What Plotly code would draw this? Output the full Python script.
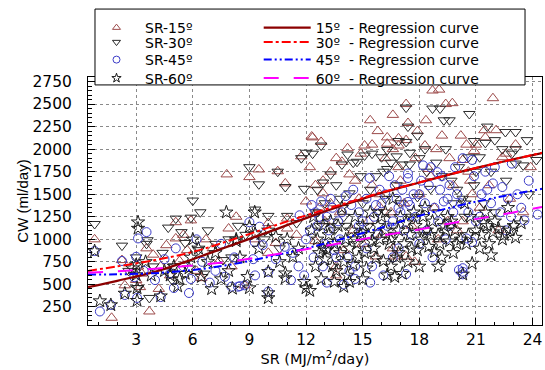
import plotly.graph_objects as go

# ---------------- data ----------------
sr15_x = [0.8,1.7,2.25,2.4,3.0,3.1,3.55,3.7,3.3,3.9,3.2,
          4.6,5.1,5.1,5.9,5.5,4.3,4.8,5.3,5.7,4.2,
          6.45,7.06,7.8,8.05,6.7,7.4,6.2,7.9,8.3,
          9.0,9.5,10.5,10.9,11.75,10.0,11.0,11.0,10.0,8.75,9.3,10.4,11.5,12.0,
          12.3,12.35,12.8,14.2,13.9,14.3,15.1,15.5,15.4,16.3,13.3,12.9,12.9,13.6,13.6,15.7,15.9,13.0,14.5,15.0,12.5,13.8,14.8,15.3,16.0,12.7,14.0,15.5,16.2,12.2,
          18.7,19.05,17.3,19.4,19.75,16.6,18.35,17.4,19.2,16.9,17.3,16.3,16.9,18.3,20.3,16.6,16.7,17.3,17.75,17.0,18.0,18.8,19.5,16.5,17.6,19.0,20.0,18.5,19.8,17.8,
          21.9,21.45,22.07,21.5,23.1,20.5,20.9,22.4,20.6,21.7,22.8,23.5,21.2,20.3,22.2,23.9,20.8,
          13.6,14.9,15.8,16.6,17.9,18.9,20.2,21.0,22.6,12.5,14.6,16.9,18.6,19.6,13.3,15.9,17.2,20.7]
sr15_y = [1000,130,770,490,550,700,900,200,620,830,470,
          935,1190,1010,1210,1050,700,600,760,880,450,
          570,900,1720,700,1000,760,650,1120,1250,
          1690,1775,1755,1620,1920,1180,1230,1120,850,490,1000,960,1050,1420,
          2140,2130,2080,2010,1860,1720,2040,2050,2320,2130,1750,1650,1510,700,600,810,1360,1200,1100,950,980,1300,1450,1200,1050,1350,880,1600,1900,1800,
          2650,2660,2500,2500,2510,2380,2320,2290,2150,2120,2100,2060,2040,2040,1880,900,810,810,750,1650,1500,1350,1200,1300,1150,1000,1100,1780,1600,1900,
          2565,2210,2210,2130,2050,2050,1980,1910,1750,1600,1450,1300,1350,1200,1100,1800,1500,
          1900,1950,2200,2000,2200,2000,2150,2050,1950,1600,1650,1800,1700,1900,1400,1500,1400,1650]

sr30_x = [0.8,2.25,3.6,3.55,3.7,3.1,3.0,2.6,3.9,
          4.7,5.1,5.9,6.0,6.4,5.4,4.4,5.0,5.6,4.9,
          7.6,8.05,6.8,7.2,6.3,7.9,8.4,6.6,
          9.0,9.5,10.5,10.9,11.75,9.3,10.0,11.0,11.5,9.8,10.6,11.9,8.8,12.0,
          12.35,12.8,14.2,13.9,15.1,15.5,14.7,16.0,13.3,12.9,14.3,16.2,13.0,12.5,14.0,15.0,15.8,13.5,14.6,15.3,12.7,13.2,16.1,14.9,
          17.3,18.7,19.1,19.3,19.6,17.4,16.9,17.3,18.3,16.3,16.8,17.5,18.0,17.1,17.5,16.3,19.2,19.7,20.0,20.3,17.9,16.8,18.6,19.0,17.6,16.6,18.2,
          20.65,22.56,23.1,20.9,21.5,22.0,22.4,23.1,20.6,21.2,23.1,23.5,21.8,22.6,20.9,21.4,23.8,22.0,20.4,24.2,
          13.6,14.5,15.7,16.5,17.9,18.9,19.4,20.1,21.0,22.9,13.8,15.4,17.0,18.4,19.8,12.6,14.1,16.7,21.6,23.7]
sr30_y = [1170,930,990,950,350,460,800,650,700,
          1130,1230,1240,1430,1300,1080,850,700,960,550,
          770,800,1100,950,880,1000,1150,620,
          1800,1610,1750,1580,1900,1330,1260,1260,1180,1000,900,1560,1050,1960,
          1950,2040,1940,1830,1930,1950,1860,1910,1720,1630,1510,1450,1400,1300,1250,1400,1300,1100,1000,1150,1150,900,1750,1700,
          2460,2450,2450,2320,2320,2250,2090,2080,2000,1990,1920,1960,1900,1830,1830,1780,1700,1650,1550,1450,1470,1600,1560,1300,1250,1150,1050,
          2390,2190,2190,2090,2070,2100,2000,2000,1910,1910,1840,1820,1750,1650,1600,1400,1500,1300,1250,1880,
          1600,1850,1700,1850,2150,1850,2000,1800,1750,1950,1450,1550,1400,1750,1400,1550,1150,1050,2250,2100]

sr45_x = [0.8,1.08,1.66,2.25,2.4,3.1,3.55,3.0,3.05,4.0,3.4,2.9,
          5.1,4.3,5.0,5.8,4.8,5.5,4.5,5.9,
          7.7,8.05,8.5,6.5,7.2,6.9,8.2,7.5,6.2,
          9.0,9.54,11.66,9.28,9.7,10.87,8.4,8.75,9.3,10.0,10.0,11.2,11.9,11.6,10.4,11.3,12.0,9.2,
          12.3,12.5,12.8,13.1,13.4,12.6,13.2,13.7,14.1,14.4,14.8,15.37,15.0,15.6,16.0,13.0,13.5,14.2,14.6,15.2,15.8,12.4,13.1,14.0,14.6,15.4,16.1,13.8,14.9,12.9,15.9,16.3,
          17.4,17.4,18.2,18.6,18.96,17.4,17.5,18.5,19.1,19.6,18.0,16.8,17.0,17.8,18.8,19.3,20.0,16.6,17.2,18.4,19.0,19.8,17.3,20.1,20.3,16.9,18.0,19.4,18.7,16.4,19.9,
          20.3,20.8,21.9,22.4,22.9,22.86,23.57,24.27,20.5,20.8,20.3,20.3,21.3,21.8,22.3,21.0,23.2,22.6,21.5,23.8,20.6,
          12.7,13.3,13.9,14.5,15.2,15.7,16.2,16.7,17.1,17.7,18.3,19.2,19.5,20.2,20.9,21.6,22.0,22.7,23.4,13.6,14.3,15.5,16.6,17.6,19.6,21.2,18.1,12.2,14.8,16.9]
sr45_y = [870,200,272,760,383,1010,1080,806,350,548,650,580,
          900,360,460,405,620,700,780,560,
          585,475,480,750,650,520,800,950,1000,
          1190,1140,1267,970,935,917,475,490,600,640,420,548,600,700,780,850,1000,780,
          1380,1300,1420,1250,1350,1150,1100,1200,1480,1380,1300,1680,1200,1250,1400,950,880,800,700,900,1050,800,520,500,560,520,600,1000,1080,700,1550,1150,
          1730,1680,1820,1800,1745,1415,1380,1600,1550,1600,1500,1450,1300,1250,1350,1420,1500,1200,1100,1100,1200,1300,615,660,640,900,950,1000,800,1700,1800,
          1900,1880,1620,1580,1840,1250,1210,1275,1010,970,680,612,1500,1400,1300,1200,1500,1100,1750,1650,1300,
          1250,1450,1300,1550,1450,1380,1500,1600,1550,1500,1400,1700,1450,1400,1700,1550,1800,1450,1350,800,650,700,800,1050,1150,1250,1650,1100,1150,1350]

sr60_x = [0.8,1.08,1.66,2.4,3.1,3.1,3.0,3.0,3.05,3.05,3.5,3.8,2.8,
          4.5,4.8,5.0,5.3,5.6,5.8,4.3,5.2,5.9,6.0,
          7.78,6.46,8.1,6.8,7.2,7.5,6.3,8.3,7.0,7.9,
          9.28,9.0,9.3,10.4,11.0,8.3,9.5,10.0,8.9,9.0,10.0,10.0,10.0,10.9,10.9,11.9,12.0,11.3,8.5,11.6,10.6,
          12.3,12.6,12.9,13.2,13.5,13.8,14.1,14.4,14.7,15.0,15.3,15.6,15.9,16.2,12.5,13.0,13.6,14.2,14.5,14.8,15.2,15.7,16.1,12.8,13.5,14.0,14.3,15.0,12.2,13.3,14.6,15.4,13.9,16.0,
          16.3,16.7,18.8,16.5,16.9,17.2,17.5,17.8,18.1,18.4,18.7,19.0,19.3,19.6,19.9,20.2,16.8,17.4,17.9,18.5,19.2,19.8,17.0,17.7,18.3,19.5,16.6,18.0,16.2,
          21.0,21.3,21.6,21.9,22.2,22.5,22.8,23.1,21.2,21.8,20.8,20.3,20.5,22.0,23.4,20.7,21.5,22.7,20.4,
          12.4,12.9,13.1,13.7,14.0,14.3,14.9,15.5,15.8,16.4,16.9,17.3,17.6,18.2,18.6,19.1,19.4,19.7,20.0,20.6,21.4,22.4,23.0,12.7,13.4,15.1,16.5,17.1,19.0,21.7]
sr60_y = [870,316,272,400,1190,1120,715,605,460,320,750,600,680,
          650,600,700,560,620,680,370,480,800,1000,
          1300,585,455,750,850,560,900,980,450,650,
          1300,1140,1060,1030,1000,1000,900,1100,585,460,640,405,350,625,570,530,460,806,800,900,750,
          1100,1000,900,1050,950,850,1000,1100,950,1150,1050,900,1000,1100,700,780,650,600,720,800,680,790,760,560,530,475,530,560,430,1200,1250,1300,1350,1250,
          604,585,860,1000,1100,950,1050,1150,1000,1100,1200,1050,1150,980,1100,1000,800,750,880,920,800,850,1250,1300,1350,1250,1450,700,1300,
          1100,1050,1150,1080,1120,1050,1100,1020,900,825,733,612,950,1200,1180,1250,1300,1350,1400,
          1250,1150,880,1150,750,900,1050,980,1150,950,850,1180,900,1250,1050,950,1100,1200,950,1050,1180,1000,1150,850,700,850,700,620,700,950]

# regression curves
curve_x = [0.45, 2, 4, 6, 8, 10, 12, 14, 16, 18, 20, 22, 24.5]
curve15 = [470, 540, 640, 780, 930, 1080, 1235, 1380, 1515, 1630, 1740, 1840, 1955]
curve30 = [650, 700, 770, 860, 990, 1130, 1265, 1395, 1520, 1630, 1740, 1840, 1960]
curve45 = [610, 612, 625, 660, 720, 805, 900, 1010, 1130, 1260, 1370, 1460, 1560]
curve60 = [630, 645, 675, 710, 755, 820, 890, 965, 1040, 1110, 1190, 1260, 1360]

x_ticks = [3, 6, 9, 12, 15, 18, 21, 24]
y_ticks = [250, 500, 750, 1000, 1250, 1500, 1750, 2000, 2250, 2500, 2750]

FONT_W = "DejaVu Sans, Verdana, sans-serif"
FONT_A = "Liberation Sans, Arial, sans-serif"

fig = go.Figure()

marker_specs = [
    ("SR-15º", sr15_x, sr15_y, "triangle-up-open", "#9c4a4a", 10),
    ("SR-30º", sr30_x, sr30_y, "triangle-down-open", "#2a2a2a", 10),
    ("SR-45º", sr45_x, sr45_y, "circle-open", "#3c3cc8", 9),
    ("SR-60º", sr60_x, sr60_y, "star-open", "#1a1a1a", 10),
]
line_specs = [
    ("15º  - Regression curve", curve15, "#8b0000", "solid", 2.2),
    ("30º  - Regression curve", curve30, "#ff0000", "dashdot", 2),
    ("45º  - Regression curve", curve45, "#0000ff", "8px,3px,2px,3px,2px,3px", 2),
    ("60º  - Regression curve", curve60, "#ff00ff", "longdash", 2),
]

for name, xs, ys, sym, col, sz in marker_specs:
    fig.add_trace(go.Scatter(
        x=xs, y=ys, mode="markers", name=name, showlegend=False,
        marker=dict(symbol=sym, size=sz, color=col, line=dict(width=1, color=col)),
    ))
for name, ys, col, dash, w in line_specs:
    fig.add_trace(go.Scatter(
        x=curve_x, y=ys, mode="lines", name=name, showlegend=False,
        line=dict(color=col, dash=dash, width=w, shape="spline"),
    ))

# legend entries (one small legend per cell so rows can be spaced like the original)
row_tops_px = [12, 26.5, 44, 62.5]
plot_h = 248
for i, ((name, _, _, sym, col, _), (lname, _, lcol, ldash, lw)) in enumerate(zip(marker_specs, line_specs)):
    ypaper = (325 - row_tops_px[i]) / plot_h
    lid_m = "legend" if i == 0 else f"legend{2 * i + 1}"
    lid_l = f"legend{2 * i + 2}"
    fig.add_trace(go.Scatter(x=[None], y=[None], mode="markers", name=name, legend=lid_m,
                             marker=dict(symbol=sym, size=7, color=col, line=dict(width=1, color=col))))
    fig.add_trace(go.Scatter(x=[None], y=[None], mode="lines", name=lname, legend=lid_l,
                             line=dict(color=lcol, dash=ldash, width=lw)))
    common_leg = dict(yanchor="top", xanchor="left", bgcolor="rgba(0,0,0,0)", borderwidth=0,
                      itemwidth=47, font=dict(family=FONT_W, size=14, color="black"))
    fig.update_layout({lid_m: dict(x=0.0, y=ypaper, **common_leg),
                       lid_l: dict(x=0.376, y=ypaper, **common_leg)})

# legend box
fig.add_shape(type="rect", xref="paper", yref="paper",
              x0=0.0154, x1=0.9626, y0=0.968, y1=1.274,
              fillcolor="white", line=dict(color="black", width=1), layer="above")

common_axis = dict(
    showline=True, linecolor="black", linewidth=1, mirror=True,
    showgrid=True, gridcolor="#8a8a8a", griddash="dot", gridwidth=1,
    zeroline=False, ticks="inside", ticklen=7, tickcolor="black",
    tickfont=dict(family=FONT_W, size=15.5, color="black"),
)

fig.update_xaxes(**common_axis, range=[0.45, 24.5], tickvals=x_ticks,
                 ticklabelstandoff=0,
                 minor=dict(dtick=1, tick0=0, ticks="inside", ticklen=3, tickcolor="black", showgrid=False),
                 title=dict(text="SR (MJ/m<sup>2</sup>/day)", font=dict(family=FONT_W, size=14.5, color="black"), standoff=2))
fig.update_yaxes(**common_axis, range=[50, 2800], tickvals=y_ticks,
                 ticklabelstandoff=12,
                 minor=dict(dtick=50, tick0=0, ticks="inside", ticklen=4, tickcolor="black", showgrid=False),
                 title=dict(text="CW (ml/day)", font=dict(family=FONT_A, size=15, color="black"), standoff=0))

fig.update_layout(
    width=545, height=370,
    margin=dict(l=88, r=3, t=77, b=45, autoexpand=False),
    plot_bgcolor="white", paper_bgcolor="white",
    showlegend=True,
)

fig.write_html("out.html")
